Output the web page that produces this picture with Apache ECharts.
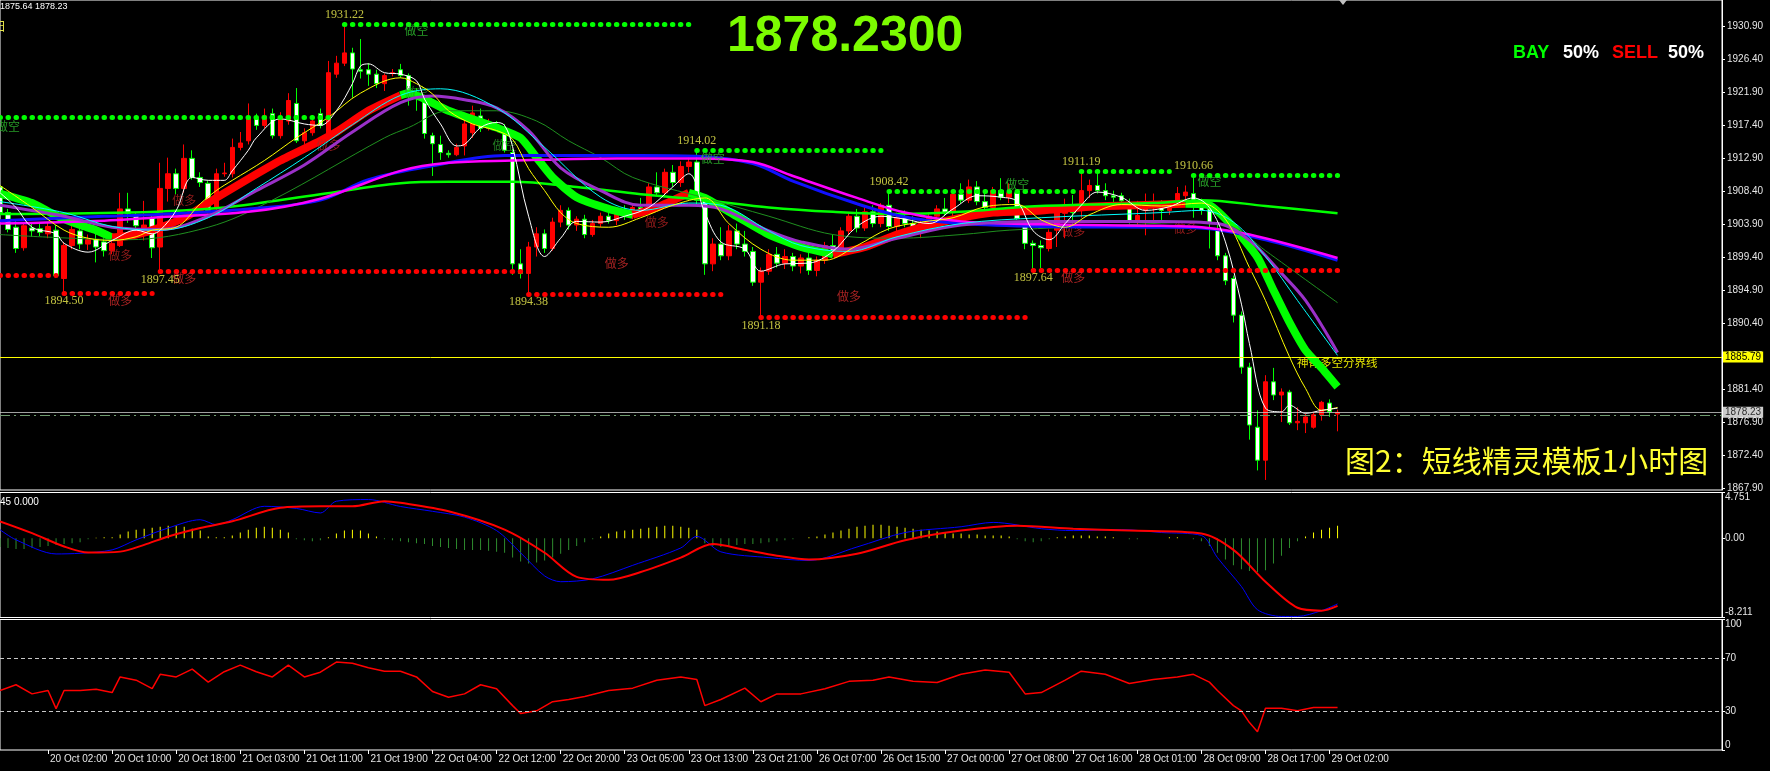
<!DOCTYPE html>
<html><head><meta charset="utf-8">
<script src="https://cdn.jsdelivr.net/npm/echarts@6/dist/echarts.min.js"></script>
<style>html,body{margin:0;padding:0;background:#000;}#c{width:1770px;height:771px;}</style>
</head><body><div id="c"></div>
<script>
// ---------- categories (hourly bars, 23:00 bar absent, weekend gap) ----------
const MONTHS = ['Jan','Feb','Mar','Apr','May','Jun','Jul','Aug','Sep','Oct','Nov','Dec'];
const CAT_COUNT = 216;
function buildTimes(count){
  const out=[]; let t=Date.UTC(2020,9,19,19);
  while(out.length<count){
    const d=new Date(t), h=d.getUTCHours(), wd=d.getUTCDay();
    const skip = h===23 || wd===6 || wd===0 || (wd===1 && h===0);
    if(!skip) out.push(d.getUTCDate()+' '+MONTHS[d.getUTCMonth()]+' '+String(h).padStart(2,'0')+':00');
    t+=3600000;
  }
  return out;
}
const categories = buildTimes(CAT_COUNT);

// ---------- tick labels ----------
const priceTicks = [1867.90,1872.40,1876.90,1881.40,1885.90,1890.40,1894.90,1899.40,1903.90,1908.40,1912.90,1917.40,1921.90,1926.40,1930.90];
const macdTicks = [-8.211,0,4.751];
const rsiTicks = [0,30,70,100];

// ---------- candles [open, high, low, close] ----------
const candles = [
[1909.0,1910.5,1904.5,1905.5],[1905.5,1906.0,1902.8,1903.2],[1903.5,1904.5,1900.0,1900.6],[1900.7,1904.2,1900.3,1903.7],
[1903.4,1904.0,1902.2,1903.0],[1903.3,1904.0,1902.3,1902.8],[1902.6,1904.2,1902.0,1903.6],[1903.1,1903.8,1896.6,1896.9],
[1896.5,1901.5,1894.5,1901.0],[1901.0,1904.0,1900.5,1903.2],[1903.0,1903.5,1900.5,1901.2],[1901.2,1902.5,1900.4,1901.8],
[1901.8,1902.6,1898.7,1900.8],[1901.5,1902.0,1899.5,1900.3],[1900.3,1902.0,1899.8,1901.3],[1901.0,1908.2,1900.8,1906.0],
[1906.0,1908.2,1904.1,1905.4],[1905.2,1905.5,1902.1,1903.7],[1903.3,1907.1,1901.7,1903.8],[1904.7,1905.1,1899.3,1900.7],
[1900.8,1912.3,1897.45,1908.8],[1908.8,1913.0,1907.0,1910.8],[1910.8,1911.5,1908.0,1908.8],[1908.8,1914.8,1908.2,1912.9],
[1912.9,1914.0,1910.0,1910.3],[1910.3,1911.0,1909.0,1909.6],[1909.5,1909.8,1905.4,1905.8],[1906.0,1911.5,1905.8,1910.8],
[1910.8,1912.3,1910.4,1910.9],[1910.8,1915.6,1910.3,1914.4],[1914.4,1916.5,1914.0,1915.0],[1915.3,1920.4,1914.8,1918.3],
[1918.3,1919.0,1916.8,1917.4],[1917.4,1919.7,1917.0,1918.7],[1919.0,1919.7,1915.6,1916.0],[1916.0,1919.2,1915.6,1918.5],
[1918.0,1921.8,1917.5,1920.8],[1920.4,1922.5,1915.0,1915.3],[1915.3,1917.0,1914.8,1916.4],[1916.4,1918.8,1916.0,1918.0],
[1919.0,1919.7,1917.0,1917.4],[1916.3,1926.2,1916.0,1924.6],[1924.4,1926.9,1923.9,1925.9],[1925.9,1931.22,1925.5,1927.3],
[1927.3,1928.0,1921.2,1925.1],[1925.0,1929.2,1923.8,1924.8],[1925.0,1925.9,1922.8,1924.4],[1924.4,1925.0,1922.5,1923.1],
[1923.1,1924.5,1922.1,1924.2],[1924.5,1925.1,1924.1,1924.6],[1925.0,1925.8,1923.9,1924.2],[1924.2,1924.5,1920.1,1921.7],
[1921.3,1922.5,1919.4,1921.1],[1921.0,1921.2,1915.6,1916.3],[1916.0,1916.4,1910.5,1914.9],[1914.8,1916.0,1912.7,1913.7],
[1913.6,1914.0,1913.0,1913.4],[1913.4,1914.9,1913.2,1914.4],[1914.6,1918.3,1913.3,1917.6],[1916.4,1920.1,1915.7,1919.1],
[1918.7,1919.7,1916.5,1917.0],[1917.0,1918.3,1916.7,1917.8],[1917.5,1918.0,1916.8,1917.3],[1917.0,1917.6,1913.7,1914.0],
[1913.7,1914.2,1897.0,1898.5],[1898.5,1900.5,1896.5,1897.2],[1897.2,1901.5,1894.38,1900.8],[1900.8,1903.5,1899.5,1902.6],
[1902.6,1903.2,1900.0,1900.6],[1900.6,1904.8,1900.3,1904.2],[1904.2,1906.5,1903.5,1905.8],[1905.8,1906.2,1903.2,1903.8],
[1903.8,1905.0,1903.0,1904.6],[1904.6,1905.2,1902.0,1902.5],[1902.5,1904.5,1902.2,1904.0],[1904.0,1905.5,1903.5,1905.0],
[1905.0,1906.0,1904.0,1904.4],[1904.4,1906.0,1903.8,1905.6],[1905.6,1906.5,1904.5,1905.0],[1905.0,1906.8,1904.6,1906.2],
[1906.2,1907.5,1905.5,1905.8],[1905.8,1909.5,1905.5,1909.0],[1909.0,1911.0,1907.8,1908.2],[1908.2,1911.5,1907.6,1911.0],
[1911.0,1912.0,1909.0,1909.6],[1909.6,1912.5,1909.0,1911.8],[1911.8,1913.0,1911.0,1912.4],[1912.4,1914.02,1906.5,1907.2],
[1907.2,1908.0,1897.0,1898.5],[1898.5,1902.0,1897.5,1901.2],[1901.2,1903.5,1899.0,1899.6],[1899.6,1903.8,1899.0,1903.0],
[1903.0,1904.0,1900.5,1901.2],[1901.2,1903.0,1899.5,1900.2],[1900.2,1900.8,1895.5,1896.0],[1896.0,1898.0,1891.18,1897.5],
[1897.5,1900.5,1897.0,1899.8],[1899.8,1900.8,1898.0,1898.6],[1898.6,1900.5,1897.8,1899.5],[1899.5,1900.0,1897.5,1898.2],
[1898.2,1899.8,1897.2,1899.3],[1899.3,1900.2,1897.0,1897.6],[1897.6,1899.5,1896.8,1899.0],[1899.0,1901.5,1898.5,1901.0],
[1901.0,1902.5,1899.5,1900.0],[1900.0,1903.5,1899.8,1903.0],[1903.0,1905.5,1902.5,1905.0],[1905.0,1906.0,1902.8,1903.4],
[1903.4,1906.2,1903.0,1905.6],[1905.6,1906.5,1903.5,1904.0],[1904.0,1906.8,1903.5,1906.5],[1906.5,1908.42,1903.0,1903.6],
[1903.6,1905.5,1902.5,1904.8],[1904.8,1905.8,1903.5,1904.0],[1904.0,1905.0,1902.5,1903.0],[1903.0,1904.5,1902.0,1904.0],
[1904.0,1905.5,1903.2,1905.0],[1905.0,1906.5,1904.5,1906.0],[1906.0,1907.5,1905.0,1905.5],[1905.5,1908.5,1905.0,1908.0],
[1908.0,1909.5,1906.8,1907.2],[1907.2,1910.0,1906.8,1909.0],[1909.0,1909.8,1906.5,1907.0],[1907.0,1908.5,1905.8,1906.2],
[1906.2,1909.0,1905.5,1908.5],[1908.5,1910.2,1907.2,1907.6],[1907.6,1909.5,1906.8,1908.2],[1908.2,1908.6,1904.5,1904.7],
[1903.7,1904.2,1900.5,1901.3],[1901.3,1901.7,1897.64,1901.0],[1901.0,1901.7,1897.9,1900.7],[1900.6,1903.2,1900.2,1902.8],
[1903.1,1906.2,1900.8,1905.5],[1905.4,1907.4,1902.0,1906.3],[1906.5,1907.9,1904.0,1905.5],[1906.5,1911.19,1904.8,1908.5],
[1908.5,1910.0,1907.5,1909.2],[1909.2,1910.8,1908.1,1908.5],[1908.5,1909.5,1907.2,1907.8],[1907.8,1908.5,1906.8,1907.6],
[1907.8,1908.2,1906.6,1907.1],[1906.2,1907.4,1904.0,1904.4],[1904.4,1907.1,1903.8,1905.1],[1905.8,1908.1,1902.4,1906.5],
[1906.5,1908.1,1904.2,1907.0],[1906.7,1907.2,1904.5,1905.8],[1905.8,1907.0,1905.2,1906.5],[1906.5,1909.0,1906.2,1908.1],
[1907.8,1909.2,1907.3,1908.3],[1908.1,1910.66,1904.8,1907.2],[1907.2,1907.4,1905.2,1905.8],[1906.1,1906.3,1900.6,1904.0],
[1903.3,1904.0,1899.0,1899.6],[1899.6,1900.0,1895.6,1896.2],[1896.5,1896.9,1890.5,1891.5],[1891.5,1892.0,1883.5,1884.4],
[1884.4,1885.0,1874.5,1876.5],[1876.2,1878.5,1870.3,1871.7],[1871.7,1883.3,1869.0,1882.4],[1882.4,1884.3,1879.9,1880.6],
[1880.6,1881.5,1876.9,1881.0],[1881.0,1881.3,1876.5,1876.8],[1876.8,1878.9,1875.8,1877.0],[1876.8,1878.0,1875.4,1877.6],
[1876.2,1878.3,1876.0,1877.9],[1877.9,1879.8,1877.1,1879.6],[1879.5,1880.0,1877.6,1878.3],[1878.0,1878.6,1875.64,1878.23]
];

// ---------- indicator lines: [barIndex, value] ----------
const maWhite = [[0,1908.2],[2,1906.2],[4,1903.5],[7,1902.6],[8,1901.3],[11,1900.1],[14,1901.7],[17,1903.1],[19,1902.6],[20,1903.1],[22,1905.8],[24,1910.3],[26,1909.9],[28,1909.9],[29,1911.2],[31,1914.0],[32,1915.7],[35,1918.3],[38,1917.6],[40,1917.4],[42,1919.4],[44,1923.1],[45,1925.5],[46,1925.8],[48,1924.6],[50,1924.4],[52,1923.5],[53,1921.0],[55,1917.6],[57,1914.6],[58,1914.8],[60,1917.1],[62,1917.8],[63,1917.4],[64,1914.5],[66,1905.0],[68,1899.5],[70,1902.0],[72,1904.3],[75,1904.2],[78,1905.0],[81,1906.2],[84,1909.0],[86,1910.8],[88,1905.5],[90,1901.5],[93,1900.5],[95,1897.5],[98,1898.5],[101,1898.6],[104,1900.2],[107,1903.6],[110,1905.0],[113,1904.6],[116,1904.0],[119,1906.0],[122,1907.8],[125,1907.6],[127,1907.0],[129,1903.0],[131,1901.8],[133,1904.0],[135,1906.5],[137,1908.3],[140,1907.6],[143,1905.8],[146,1906.3],[149,1907.5],[151,1906.2],[153,1901.5],[155,1893.0],[156,1887.6],[158,1878.8],[160,1878.3],[161,1879.2],[163,1878.1],[165,1878.5],[167,1878.8]];
const maYellow = [[0,1909.2],[4,1906.2],[8,1903.1],[11,1902.0],[14,1901.7],[17,1902.2],[19,1903.1],[22,1903.5],[25,1906.7],[27,1908.5],[29,1909.9],[33,1912.6],[37,1915.7],[41,1918.5],[45,1921.8],[50,1923.9],[52,1923.1],[54,1921.7],[56,1919.4],[59,1917.6],[62,1916.7],[64,1915.5],[66,1911.5],[68,1908.5],[70,1905.5],[72,1904.0],[76,1903.5],[80,1904.8],[84,1906.5],[88,1907.5],[91,1904.0],[95,1900.5],[99,1899.0],[103,1899.0],[107,1901.0],[111,1903.3],[115,1904.2],[119,1904.8],[123,1906.3],[127,1906.6],[130,1904.5],[133,1903.5],[136,1905.2],[140,1906.6],[145,1906.4],[150,1906.8],[153,1904.6],[156,1898.0],[158,1893.5],[161,1885.8],[163,1881.5],[165,1878.5],[167,1878.9]];
const maCyan = [[0,1907.0],[8,1905.5],[14,1903.6],[20,1903.1],[26,1904.8],[32,1908.8],[38,1913.0],[44,1917.5],[50,1921.5],[55,1922.4],[62,1919.8],[68,1914.4],[75,1907.6],[80,1905.8],[86,1906.8],[90,1906.5],[96,1903.0],[100,1901.0],[106,1900.2],[112,1902.2],[120,1904.0],[130,1904.8],[145,1905.5],[150,1905.8],[154,1904.2],[158,1899.5],[162,1893.5],[167,1886.0]];
const maPurple = [[0,1906.5],[8,1905.0],[14,1903.5],[20,1903.2],[26,1905.0],[32,1908.5],[38,1912.0],[44,1916.5],[50,1920.5],[54,1921.4],[58,1920.9],[62,1919.8],[66,1916.7],[70,1911.6],[75,1908.5],[80,1906.5],[86,1906.5],[90,1906.0],[96,1903.0],[100,1901.5],[106,1900.5],[112,1902.0],[120,1903.8],[130,1904.3],[145,1904.3],[152,1904.0],[156,1901.7],[160,1897.2],[163,1893.5],[167,1886.4]];
const maDarkGreen = [[0,1902.5],[16,1901.8],[26,1903.5],[34,1907.2],[48,1915.7],[51,1917.1],[56,1919.4],[62,1919.4],[67,1918.0],[71,1915.3],[75,1913.0],[79,1910.3],[88,1907.5],[96,1905.0],[104,1902.5],[112,1902.0],[120,1902.5],[126,1903.1],[140,1903.8],[150,1904.2],[154,1903.5],[158,1900.3],[167,1893.2]];
const maBlue = [[0,1904.4],[13,1905.0],[19,1905.2],[31,1906.0],[40,1907.2],[46,1910.0],[54,1911.9],[63,1913.3],[72,1913.3],[80,1913.3],[87,1913.2],[94,1912.2],[99,1909.8],[107,1906.7],[113,1904.9],[120,1904.0],[130,1903.6],[145,1903.5],[150,1903.4],[158,1901.8],[167,1899.0]];
const maMagenta = [[0,1904.0],[13,1904.4],[19,1904.8],[31,1905.6],[40,1907.4],[50,1911.2],[56,1912.3],[64,1912.6],[77,1912.9],[87,1912.9],[94,1912.4],[99,1910.5],[107,1907.5],[113,1905.5],[120,1904.3],[130,1903.9],[145,1903.7],[150,1903.5],[156,1902.5],[167,1899.3]];
const maGreen = [[0,1905.3],[16,1905.5],[28,1906.2],[40,1908.0],[50,1909.5],[56,1909.7],[64,1909.7],[72,1909.0],[80,1908.0],[88,1907.2],[96,1906.2],[104,1905.6],[112,1905.3],[120,1905.6],[128,1906.3],[136,1906.6],[144,1906.8],[150,1907.2],[158,1906.4],[167,1905.4]];

// staircase trend band: segments with colour
const stairSegments = [
  {color:'#00ff00', pts:[[0,1908.1],[4,1906.8],[7,1905.1],[10,1903.8],[12,1903.1],[14,1902.1]]},
  {color:'#ff0000', pts:[[14,1902.1],[16,1902.3],[19,1903.1],[23,1904.8],[27,1907.5],[31,1910.1],[35,1912.6],[40,1915.3],[42,1916.5],[46,1919.4],[50,1921.5]]},
  {color:'#00ff00', pts:[[50,1921.5],[51,1921.8],[56,1919.4],[62,1917.1],[65,1915.7],[67,1913.0],[69,1910.3],[72,1907.6],[76,1906.0],[79,1905.2]]},
  {color:'#ff0000', pts:[[79,1905.2],[82,1906.2],[86,1908.2]]},
  {color:'#00ff00', pts:[[86,1908.2],[88,1907.5],[92,1905.0],[96,1902.5],[100,1900.8],[104,1899.8]]},
  {color:'#ff0000', pts:[[104,1899.8],[108,1900.8],[112,1902.5],[116,1903.8],[120,1904.8],[124,1905.5],[130,1905.8],[136,1906.3],[142,1906.5],[148,1906.7]]},
  {color:'#00ff00', pts:[[148,1906.7],[151,1906.5],[154,1903.5],[157,1899.4],[159,1894.9],[161,1890.5],[163,1886.7],[165,1884.3],[167,1881.7]]}
];

// dotted support / resistance levels: [fromBar, toBar, value, kind]
const levels = [
  [0,41,1918.45,'R'],[43,86,1931.22,'R'],[87,110,1914.02,'R'],[111,134,1908.42,'R'],[135,146,1911.19,'R'],[149,167,1910.66,'R'],
  [0,7,1896.92,'S'],[8,19,1894.50,'S'],[20,65,1897.45,'S'],[66,90,1894.38,'S'],[95,128,1891.18,'S'],[129,167,1897.64,'S']
];
// swing value labels: [bar, value, kind]
const swingLabels = [[43,1931.22,'R'],[87,1914.02,'R'],[111,1908.42,'R'],[135,1911.19,'R'],[149,1910.66,'R'],
  [8,1894.50,'S'],[20,1897.45,'S'],[66,1894.38,'S'],[95,1891.18,'S'],[129,1897.64,'S']];
// signal words: [bar, value at text centre, text]
const signalWords = [[52,1930.3,'做空'],[1,1917.2,'做空'],[89,1912.9,'做空'],[127,1909.3,'做空'],[151,1909.7,'做空'],
  [15,1893.5,'做多'],[23,1896.5,'做多'],[77,1898.6,'做多'],[106,1894.1,'做多'],[134,1896.6,'做多']];
const hiddenWords = [[15,1899.6,'做多'],[23,1907.1,'做多'],[41,1914.6,'做多'],[82,1904.1,'做多'],[134,1902.9,'做多'],[148,1903.3,'做多'],[52,1921.9,'做空'],[63,1914.6,'做空']];

const dividerLevel = 1885.79;
const lastPrice = 1878.23;
const askLevel = 1877.9;

// ---------- MACD ----------
const macdHist = [-0.9,-1.0,-1.1,-1.1,-1.0,-0.9,-0.8,-0.7,-0.6,-0.5,-0.4,
 -0.1,0.05,0.1,0.1,
 0.4,0.7,0.9,1.0,1.1,1.2,1.3,1.3,1.2,1.0,0.8,
 0.2,0.1,0.1,0.3,
 0.6,0.9,1.1,1.2,1.1,0.9,0.6,
 -0.1,-0.2,-0.3,-0.2,0.1,
 0.5,0.8,0.9,0.8,0.5,
 0.2,-0.1,-0.2,-0.3,
 -0.4,-0.5,-0.6,-0.8,-0.9,-1.0,-1.1,-1.2,-1.2,-1.2,-1.3,-1.4,-1.5,
 -2.0,-2.4,-2.6,-2.5,-2.3,-2.0,-1.6,-1.2,-0.8,
 -0.4,-0.1,0.2,0.5,0.7,0.8,0.9,
 1.0,1.1,1.2,1.3,1.3,1.2,1.1,0.9,
 -0.5,-0.8,-0.9,-0.8,-0.7,-0.6,-0.6,-0.5,-0.4,
 -0.3,-0.2,-0.1,0.0,0.1,0.2,0.4,0.6,
 0.8,1.0,1.2,1.3,1.4,1.4,1.3,1.2,1.1,1.0,0.9,0.8,0.7,
 0.6,0.5,0.5,0.4,0.4,0.3,0.3,0.3,0.2,
 -0.1,-0.3,-0.4,-0.3,-0.1,0.1,0.2,0.3,
 0.3,0.3,0.2,0.2,0.1,0.0,-0.1,-0.1,0.0,0.0,0.0,0.1,0.1,0.0,-0.1,
 -0.3,-0.8,-1.5,-2.2,-2.8,-3.2,-3.4,-3.5,-3.3,-2.6,-1.8,-1.0,
 -0.3,0.2,0.6,0.9,1.1,1.3];
const macdMain = [[0,0.89],[2,-0.16],[7,-1.62],[10,-1.55],[14,-1.2],[17,-0.16],[21,1.07],[25,1.93],[27,1.41],[29,1.93],[33,3.32],[37,3.1],[40,2.63],[42,3.85],[46,4.02],[50,3.3],[54,2.8],[58,2.2],[62,0.8],[65,-1.5],[68,-3.9],[70,-4.5],[74,-4.2],[79,-2.8],[85,-1.0],[87,0.2],[90,-1.4],[96,-2.0],[101,-2.3],[107,-0.9],[113,0.6],[120,1.2],[124,1.65],[130,1.0],[134,0.8],[140,0.9],[145,0.6],[150,0.3],[152,-2.0],[155,-5.0],[157,-7.4],[160,-8.1],[162,-8.1],[165,-7.5],[167,-6.8]];
const macdSignal = [[0,1.76],[4,0.54],[8,-0.85],[11,-1.48],[15,-1.38],[18,-0.68],[21,0.19],[25,1.07],[29,1.76],[35,3.16],[40,3.32],[44,3.32],[48,3.85],[50,3.68],[56,2.8],[63,0.9],[68,-1.5],[72,-4.0],[76,-4.3],[80,-3.5],[85,-2.0],[89,-0.6],[93,-1.2],[97,-1.8],[101,-2.2],[107,-1.6],[113,-0.2],[120,0.8],[127,1.3],[134,1.0],[141,0.8],[150,0.5],[154,-1.2],[158,-4.5],[162,-7.2],[165,-7.5],[167,-7.0]];

// ---------- RSI ----------
const rsi = [[0,45.6],[2,50],[4,43],[6,45.6],[7,31.7],[8,45.6],[10,45.6],[12,46.5],[14,44],[15,56],[17,53.5],[19,47],[20,58],[22,56],[24,62],[26,52],[28,60],[30,65],[32,60],[34,56],[36,65],[38,56],[40,59.6],[42,67.4],[44,66.5],[46,63],[48,60.4],[50,60.4],[52,56],[54,44.8],[56,40.4],[58,43],[60,50],[62,47],[64,34],[65,28],[67,30],[69,37],[71,38.7],[73,41],[76,45.6],[79,47.4],[82,53.5],[85,56],[87,54],[88,34],[90,38.7],[93,47.4],[95,37],[97,43],[100,43],[103,47],[106,52.6],[109,53.5],[111,56],[114,52.6],[117,51.7],[120,58],[123,61.3],[126,59.6],[128,43],[130,44],[133,53.5],[135,60.4],[138,58],[141,51],[144,54],[147,56],[149,58],[151,52],[152,45.6],[154,34],[155,30],[156,21],[157,14],[158,32],[160,32],[162,30],[164,32.6],[167,32.6]];

// ---------- build ----------
const showLabel = i => i>=6 && i<=166 && (i-6)%8===0;
const AX = {fontFamily:'"Liberation Sans", Arial, sans-serif', fontSize:10, color:'#e6e6e6'};
const grids = [
  {left:-1,right:48,top:-1,height:491},
  {left:-1,right:48,top:492.5,height:125},
  {left:-1,right:48,top:619.5,height:130.5}
].map(g=>Object.assign(g,{show:true,borderColor:'#ffffff',borderWidth:1,backgroundColor:'transparent'}));

function xAx(idx, withLabels){
  return {type:'category', gridIndex:idx, data:categories, boundaryGap:false,
    axisLine:{show:false},
    axisTick:{show:withLabels, interval:(i)=>showLabel(i), length:4, lineStyle:{color:'#ffffff'}},
    axisLabel:{show:withLabels, interval:(i)=>showLabel(i), align:'left', margin:4, padding:[0,0,0,2], ...AX},
    splitLine:{show:false}};
}
function line(name, data, color, width, idx=0, smooth=0.35){
  return {name, type:'line', xAxisIndex:idx, yAxisIndex:idx, data, symbol:'none', smooth,
    lineStyle:{color, width}, z:4, silent:true};
}
const series = [];
series.push({type:'candlestick', xAxisIndex:0, yAxisIndex:0, barWidth:5, z:2,
  data: candles.map(([o,h,l,c])=>[o,c,l,h]),
  itemStyle:{color:'#ff0000', color0:'#ffffff', borderColor:'#ff0000', borderColor0:'#00ff00', borderWidth:1},
  markLine:{symbol:['none','none'], silent:true, animation:false,
    data: [
      ...levels.map(([a,b,v,k])=>[
        {coord:[a,v], lineStyle:{color:k==='R'?'#00ff00':'#ff0000', width:5, type:[0.5,7.5], cap:'round'}, label:{show:false}},
        {coord:[b,v]}]),
      {yAxis:dividerLevel, lineStyle:{color:'#ffff00', width:1, type:'solid'},
        label:{show:true, position:'end', formatter:dividerLevel.toFixed(2), backgroundColor:'#ffff00', color:'#000', padding:[1,2,0,2], distance:1, fontFamily:AX.fontFamily, fontSize:10}},
      {yAxis:askLevel, lineStyle:{color:'#6e9a6e', width:1, type:[10,4,2,4]}, label:{show:false}},
      {yAxis:lastPrice, lineStyle:{color:'#c8c8c8', width:1, type:'solid', opacity:0.8},
        label:{show:true, position:'end', formatter:lastPrice.toFixed(2), backgroundColor:'#ffffff', color:'#000', padding:[1,2,0,2], distance:1, fontFamily:AX.fontFamily, fontSize:10}}
    ]}
});
series.push(line('green', maGreen, '#00ff00', 2.5));
series.push(line('darkgreen', maDarkGreen, '#1f8f1f', 1));
series.push(line('blue', maBlue, '#1010ff', 3));
series.push(line('magenta', maMagenta, '#ff00ff', 2.5));
stairSegments.forEach(s=>series.push(Object.assign(line('stair', s.pts, s.color, 8, 0, 0.2), {z:3, lineStyle:{color:s.color, width:8, cap:'butt', join:'miter'}})));
series.push(line('purple', maPurple, '#9a30c8', 3));
series.push(line('cyan', maCyan, '#00ffff', 1));
series.push(line('yellow', maYellow, '#ffff00', 1));
series.push(line('white', maWhite, '#ffffff', 1));
series.push({type:'scatter', xAxisIndex:0, yAxisIndex:0, symbolSize:0, silent:true, z:6,
  data: swingLabels.map(([i,v,k])=>({value:[i,v], label:{position:k==='R'?'top':'bottom', distance:k==='R'?3:2}})),
  label:{show:true, formatter:p=>p.value[1].toFixed(2), color:'#f0f050', fontFamily:'"Liberation Serif", "Times New Roman", serif', fontSize:12}});
series.push({type:'scatter', xAxisIndex:0, yAxisIndex:0, symbolSize:0, silent:true, z:5,
  data: signalWords.map(([i,v,t])=>({value:[i,v,t], label:{color:t==='做空'?'#2fc02f':'#d02a2a'}})),
  label:{show:true, position:'inside', formatter:p=>p.value[2], fontFamily:'"Noto Sans CJK SC", sans-serif', fontSize:12}});
series.push({type:'scatter', xAxisIndex:0, yAxisIndex:0, symbolSize:0, silent:true, z:3,
  data: hiddenWords.map(([i,v,t])=>({value:[i,v,t], label:{color:t==='做空'?'#2a9a2a':'#b02020'}})),
  label:{show:true, position:'inside', formatter:p=>p.value[2], fontFamily:'"Noto Sans CJK SC", sans-serif', fontSize:12}});
// MACD
series.push({type:'bar', xAxisIndex:1, yAxisIndex:1, data:macdHist, barWidth:1, silent:true,
  itemStyle:{color:p=>p.value>=0?'#ffff00':'#2e8b2e'}});
series.push(line('macd', macdMain, '#0000ff', 1, 1, 0.3));
series.push(line('signal', macdSignal, '#ff0000', 2, 1, 0.3));
// RSI
series.push(Object.assign(line('rsi', rsi, '#ff0000', 1.5, 2, 0), {
  markLine:{symbol:['none','none'], silent:true, animation:false, label:{show:false},
    lineStyle:{color:'#c8c8c8', width:1, type:[4,3]}, data:[{yAxis:70},{yAxis:30}]}}));

const yCommon = {position:'right', scale:true,
  axisLine:{show:true, lineStyle:{color:'#ffffff'}}, splitLine:{show:false}};
const option = {
  backgroundColor:'#000000', animation:false,
  grid: grids,
  xAxis:[xAx(0,false), xAx(1,false), xAx(2,true)],
  yAxis:[
    Object.assign({}, yCommon, {gridIndex:0, min:1867.628, max:1934.522,
      axisTick:{show:true, length:3, customValues:priceTicks, lineStyle:{color:'#ffffff'}},
      axisLabel:{customValues:priceTicks, formatter:v=>v.toFixed(2), margin:5, ...AX}}),
    Object.assign({}, yCommon, {gridIndex:1, min:-8.211, max:4.751,
      axisTick:{show:true, length:3, customValues:macdTicks, lineStyle:{color:'#ffffff'}},
      axisLabel:{customValues:macdTicks, formatter:v=>v===0?'0.00':v.toFixed(3), margin:3,
        verticalAlignMinLabel:'bottom', verticalAlignMaxLabel:'top', ...AX}}),
    Object.assign({}, yCommon, {gridIndex:2, min:0, max:100,
      axisTick:{show:true, length:3, customValues:rsiTicks, lineStyle:{color:'#ffffff'}},
      axisLabel:{customValues:rsiTicks, formatter:v=>String(v), margin:3,
        verticalAlignMinLabel:'bottom', verticalAlignMaxLabel:'top', ...AX}})
  ],
  series,
  graphic:[
    {type:'text', x:0, y:7, style:{text:'1875.64 1878.23', fill:'#ffffff', font:'9px "Liberation Sans"', verticalAlign:'middle'}},
    {type:'text', x:-6, y:26, style:{text:'日', fill:'#e6e64c', font:'12px "Noto Sans CJK SC"', verticalAlign:'middle'}},
    {type:'polygon', shape:{points:[[1339,0],[1347,0],[1343,5]]}, style:{fill:'#c0c0c0'}},
    {type:'text', x:727, y:37, style:{text:'1878.2300', fill:'#7cfc00', font:'bold 50px "Liberation Sans"', verticalAlign:'middle'}},
    {type:'text', x:1513, y:53, style:{text:'BAY', fill:'#00ff00', font:'bold 18px "Liberation Sans"', verticalAlign:'middle'}},
    {type:'text', x:1563, y:53, style:{text:'50%', fill:'#ffffff', font:'bold 18px "Liberation Sans"', verticalAlign:'middle'}},
    {type:'text', x:1612, y:53, style:{text:'SELL', fill:'#ff0000', font:'bold 18px "Liberation Sans"', verticalAlign:'middle'}},
    {type:'text', x:1668, y:53, style:{text:'50%', fill:'#ffffff', font:'bold 18px "Liberation Sans"', verticalAlign:'middle'}},
    {type:'text', x:1345, y:461, style:{text:'图2：短线精灵模板1小时图', fill:'#ffff33', font:'30px "Noto Sans CJK SC"', verticalAlign:'middle'}},
    {type:'text', x:1297, y:363, style:{text:'神奇多空分界线', fill:'#e6e600', font:'11.5px "Noto Sans CJK SC"', verticalAlign:'middle'}},
    {type:'text', x:0, y:502, style:{text:'45 0.000', fill:'#ffffff', font:'10px "Liberation Sans"', verticalAlign:'middle'}}
  ]
};
const chart = echarts.init(document.getElementById('c'));
chart.setOption(option);
</script></body></html>
